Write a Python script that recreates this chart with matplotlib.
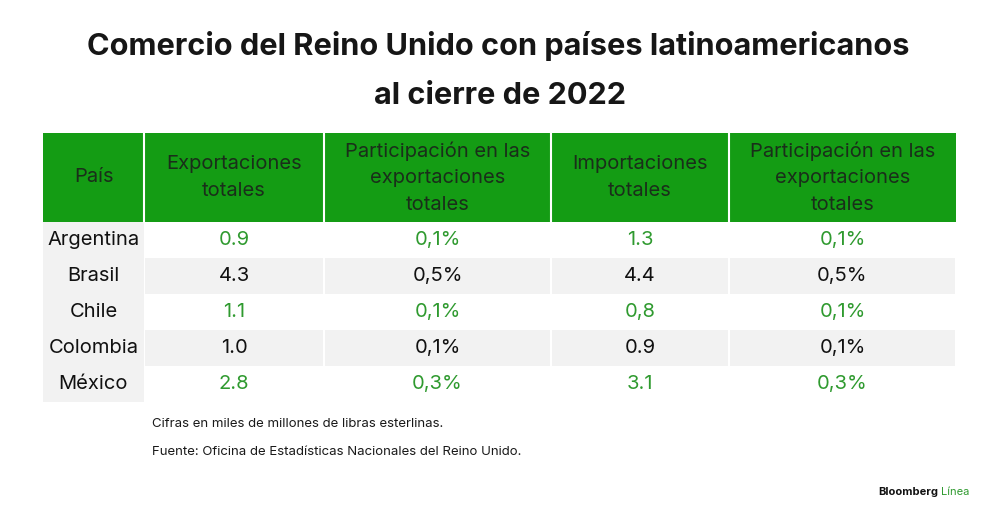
import matplotlib.pyplot as plt
from matplotlib.patches import Rectangle

plt.rcParams['font.family'] = ['Inter', 'DejaVu Sans']

# data
paises = ['Argentina', 'Brasil', 'Chile', 'Colombia', 'México']
exportaciones = ['0.9', '4.3', '1.1', '1.0', '2.8']
part_export = ['0,1%', '0,5%', '0,1%', '0,1%', '0,3%']
importaciones = ['1.3', '4.4', '0,8', '0.9', '3.1']
part_import = ['0,1%', '0,5%', '0,1%', '0,1%', '0,3%']
encabezados = ['País', 'Exportaciones\ntotales',
               'Participación en las\nexportaciones\ntotales',
               'Importaciones\ntotales',
               'Participación en las\nexportaciones\ntotales']

green_head = '#149c14'
green_txt = '#2f9a2f'
grey = '#f2f2f2'

fig = plt.figure(figsize=(10, 5.2), dpi=100)
ax = fig.add_axes([0, 0, 1, 1])
ax.set_xlim(0, 1000)
ax.set_ylim(520, 0)
ax.axis('off')

# title
ax.text(498, 46, 'Comercio del Reino Unido con países latinoamericanos',
        ha='center', va='center', fontsize=22.1, fontweight='bold', color='#161616')
ax.text(500, 96, 'al cierre de 2022',
        ha='center', va='center', fontsize=22.1, fontweight='bold', color='#161616')

col_x = [43, 144, 324, 551, 729, 956]
head_top, head_bot = 133, 222
row_h = 36

# header
for i, h in enumerate(encabezados):
    x0, x1 = col_x[i], col_x[i + 1]
    ax.add_patch(Rectangle((x0, head_top), x1 - x0, head_bot - head_top,
                           facecolor=green_head, edgecolor='none'))
    ax.text((x0 + x1) / 2, (head_top + head_bot) / 2, h, ha='center', va='center',
            fontsize=14.5, color='#1a2e1a', linespacing=1.62)
for x in col_x[1:-1]:
    ax.plot([x, x], [head_top, head_bot], color='white', lw=1.5)

# rows
columnas = [exportaciones, part_export, importaciones, part_import]
for r, pais in enumerate(paises):
    y0 = head_bot + r * row_h
    yc = y0 + row_h / 2
    ax.add_patch(Rectangle((col_x[0], y0), col_x[1] - col_x[0], row_h,
                           facecolor=grey, edgecolor='none'))
    ax.text((col_x[0] + col_x[1]) / 2, yc, pais, ha='center', va='center',
            fontsize=14.5, color='#111111')
    striped = r % 2 == 1
    color = '#111111' if striped else green_txt
    for c, vals in enumerate(columnas):
        x0, x1 = col_x[c + 1], col_x[c + 2]
        if striped:
            ax.add_patch(Rectangle((x0 + 1, y0), x1 - x0 - 2, row_h,
                                   facecolor=grey, edgecolor='none'))
        ax.text((x0 + x1) / 2, yc, vals[r], ha='center', va='center',
                fontsize=14.5, color=color)

# notes
ax.text(152, 424, 'Cifras en miles de millones de libras esterlinas.',
        ha='left', va='center', fontsize=9.5, color='#1a1a1a')
ax.text(152, 452, 'Fuente: Oficina de Estadísticas Nacionales del Reino Unido.',
        ha='left', va='center', fontsize=9.5, color='#1a1a1a')

# logo
ax.text(938, 492, 'Bloomberg', ha='right', va='center', fontsize=8,
        fontweight='bold', color='#111111')
ax.text(941, 492, 'Línea', ha='left', va='center', fontsize=8,
        color=green_txt)

fig.savefig('out.png', dpi=100, facecolor='white')
